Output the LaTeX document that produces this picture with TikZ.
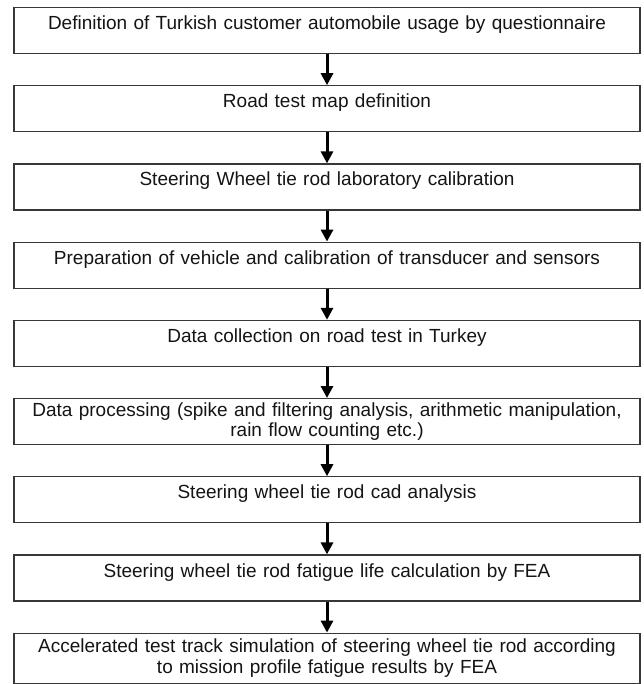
\documentclass[tikz,border=0pt]{standalone}
\usepackage{fontspec}
\setmainfont{Liberation Sans}
\usepackage{xcolor}
\definecolor{bgray}{RGB}{55,55,55}
\definecolor{tgray}{RGB}{20,20,20}
\usepackage{tikz}
\usetikzlibrary{arrows.meta,positioning}

\begin{document}
\begin{tikzpicture}[
  x=1pt,y=-1pt,
  node distance=31pt,
  sbox/.style={rectangle,draw=bgray,line width=1.2pt,text width=626pt,inner xsep=0pt,inner ysep=0pt,align=center,text=tgray,font=\fontsize{19}{20.5}\selectfont,text height=22pt,text depth=24pt},
  dbox/.style={rectangle,draw=bgray,line width=1.2pt,text width=626pt,inner xsep=0pt,inner ysep=0pt,align=center,text=tgray,font=\fontsize{19}{20.5}\selectfont,minimum height=46pt},
  arrow/.style={-{Triangle[width=12pt,length=12pt]},line width=3pt,black}
]
  \useasboundingbox (0,0) rectangle (643,684);

  % === Process steps ===
  \node[sbox,anchor=north] (s1) at (327,7) {Definition of Turkish customer automobile usage by questionnaire};
  \node[sbox,below=of s1] (s2) {Road test map definition};
  \node[sbox,below=of s2] (s3) {Steering Wheel tie rod laboratory calibration};
  \node[sbox,below=of s3] (s4) {Preparation of vehicle and calibration of transducer and sensors};
  \node[sbox,below=of s4] (s5) {Data collection on road test in Turkey};
  \node[dbox,below=of s5] (s6) {Data processing (spike and filtering analysis, arithmetic manipulation,\\rain flow counting etc.)};
  \node[sbox,below=of s6] (s7) {Steering wheel tie rod cad analysis};
  \node[sbox,below=of s7] (s8) {Steering wheel tie rod fatigue life calculation by FEA};
  \node[dbox,below=of s8,minimum height=50pt] (s9) {Accelerated test track simulation of steering wheel tie rod according\\to mission profile fatigue results by FEA};

  % Flow arrows
  \draw[arrow] (s1) -- (s2);
  \draw[arrow] (s2) -- (s3);
  \draw[arrow] (s3) -- (s4);
  \draw[arrow] (s4) -- (s5);
  \draw[arrow] (s5) -- (s6);
  \draw[arrow] (s6) -- (s7);
  \draw[arrow] (s7) -- (s8);
  \draw[arrow] (s8) -- (s9);
\end{tikzpicture}
\end{document}
